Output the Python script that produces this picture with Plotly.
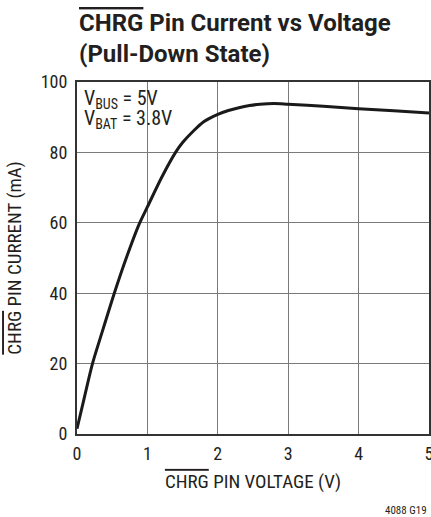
import plotly.graph_objects as go

voltage = [0, 0.1, 0.22, 0.35, 0.53, 0.7, 0.88, 1.0, 1.2, 1.4, 1.5, 1.65, 1.8, 2.0, 2.15, 2.3, 2.45, 2.6, 2.8, 3.0, 3.5, 4.0, 4.5, 5.0]
current = [1.5, 10.0, 20, 28.5, 40, 50.0, 59.5, 64.5, 72.8, 80, 82.8, 86.0, 88.7, 90.8, 91.9, 92.7, 93.3, 93.7, 93.9, 93.7, 93.1, 92.4, 91.8, 91.2]
x_ticks = [0, 1, 2, 3, 4, 5]
y_ticks = [0, 20, 40, 60, 80, 100]

FONT = "Roboto Condensed, Liberation Sans Narrow, Roboto, Liberation Sans, sans-serif"
TFONT = "Roboto, Liberation Sans, sans-serif"
OL = '<span style="text-decoration:overline">CHRG</span>'
PH = 517 - 82 - 83  # plot height in px, for paper-relative text placement
PW = 431 - 77 - 2

fig = go.Figure()
fig.add_trace(go.Scatter(x=voltage, y=current, mode="lines",
                         line=dict(color="#1a1a1a", width=3, shape="spline", smoothing=0.8),
                         hoverinfo="skip", showlegend=False))

fig.update_layout(
    width=431, height=517,
    margin=dict(l=77, r=2, t=82, b=83),
    paper_bgcolor="white", plot_bgcolor="white",
    font=dict(family=FONT, color="#231f20", size=18),
    xaxis=dict(range=[0, 5], tickvals=x_ticks, showgrid=True, gridcolor="#7a7a7a", gridwidth=1,
               showline=True, mirror=True, linecolor="#333333", linewidth=2,
               zeroline=False, ticks="", ticklabelstandoff=2, automargin=False,
               ticklabeloverflow="allow", tickfont=dict(size=18),
               title=dict(text=f"{OL} PIN VOLTAGE (V)", font=dict(size=19), standoff=12)),
    yaxis=dict(range=[0, 100], tickvals=y_ticks, showgrid=True, gridcolor="#7a7a7a", gridwidth=1,
               showline=True, mirror=True, linecolor="#333333", linewidth=2,
               zeroline=False, ticks="", ticklabelstandoff=4, automargin=False,
               ticklabeloverflow="allow", tickfont=dict(size=18),
               title=dict(text=f"{OL} PIN CURRENT (mA)", font=dict(size=19), standoff=14)),
)

# white backing box behind the condition label (hides gridlines, stays under the curve)
fig.add_shape(type="rect", xref="paper", yref="paper", layer="between",
              x0=0.003, x1=(176 - 77) / PW, y0=1 - (135 - 82) / PH, y1=0.997,
              fillcolor="white", line=dict(width=0))

fig.add_annotation(text=f"<b>{OL} Pin Current vs Voltage<br>(Pull-Down State)</b>",
                   xref="paper", yref="paper", x=0, y=1 + (82 - 7) / PH,
                   xanchor="left", yanchor="top", align="left", showarrow=False,
                   font=dict(size=24, family=TFONT, color="#231f20"))
fig.add_annotation(text="V<sub>BUS</sub> = 5V",
                   xref="paper", yref="paper", x=5 / PW, y=1 - 2 / PH, xanchor="left", yanchor="top",
                   align="left", showarrow=False,
                   font=dict(size=20, family=FONT, color="#231f20"))
fig.add_annotation(text="V<sub>BAT</sub> = 3.8V",
                   xref="paper", yref="paper", x=5 / PW, y=1 - 22 / PH, xanchor="left", yanchor="top",
                   align="left", showarrow=False,
                   font=dict(size=20, family=FONT, color="#231f20"))
fig.add_annotation(text="4088 G19", xref="paper", yref="paper", x=1, y=-(83 + 2) / PH,
                   xanchor="right", yanchor="bottom", showarrow=False,
                   font=dict(size=11, family=FONT, color="#231f20"))

fig.write_html("out.html", config={"displayModeBar": False},
               post_script="document.body.style.margin='0';")
